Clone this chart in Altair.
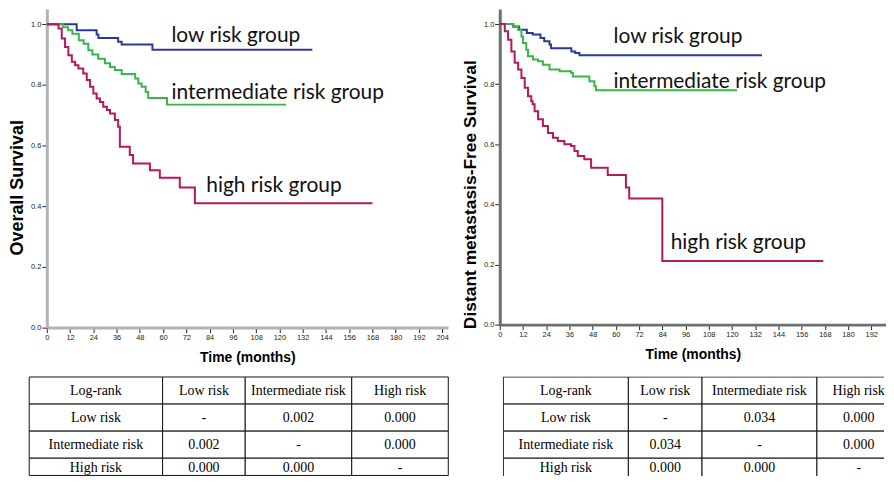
import altair as alt
import pandas as pd

# ---------------- data ----------------
groups = ["low risk", "intermediate risk", "high risk"]

# Overall survival (left): time (months) of each step and survival after it
os_low_t = [0, 15.4, 25.7, 26.6, 36.8, 38.6, 54.5, 137]
os_low_s = [1.0, 0.980, 0.966, 0.955, 0.942, 0.933, 0.916, 0.916]
os_mid_t = [0, 8.5, 11, 13.2, 16.5, 19, 21.4, 23.5, 26.5, 30, 32.6, 35.1, 38.6, 45.6, 47.2, 48.9, 51, 52.3, 62, 123.5]
os_mid_s = [1.0, 0.99, 0.98, 0.969, 0.947, 0.936, 0.914, 0.900, 0.886, 0.871, 0.859, 0.849, 0.836, 0.821, 0.805, 0.794, 0.777, 0.757, 0.735, 0.735]
os_high_t = [0, 6, 7.7, 9.4, 11.1, 12.9, 14.6, 16.3, 18.8, 20.6, 22.3, 24, 25.7, 27.4, 29.1, 31, 32.6, 35.1, 36.8, 37.7,
             42.8, 44.5, 53.2, 58.3, 68.6, 76.4, 168]
os_high_s = [1.0, 0.986, 0.953, 0.925, 0.898, 0.876, 0.865, 0.854, 0.838, 0.816, 0.794, 0.772, 0.755, 0.744, 0.728, 0.717,
             0.706, 0.684, 0.662, 0.596, 0.569, 0.541, 0.519, 0.494, 0.462, 0.410, 0.410]

# Distant metastasis-free survival (right)
dm_low_t = [0, 7, 10, 14, 17, 21, 23, 25.7, 26.5, 37, 39, 41.2, 135.5]
dm_low_s = [1.0, 0.992, 0.981, 0.970, 0.965, 0.954, 0.943, 0.932, 0.920, 0.909, 0.904, 0.896, 0.896]
dm_mid_t = [0, 7, 9.5, 11.2, 12, 13.7, 14.6, 17.2, 19.8, 22.3, 25.7, 30.9, 36.9, 37.8, 46.3, 48.9, 49.7, 122.6]
dm_mid_s = [1.0, 0.990, 0.981, 0.959, 0.937, 0.915, 0.893, 0.882, 0.876, 0.865, 0.849, 0.843, 0.837, 0.826, 0.810, 0.793, 0.780, 0.780]
dm_high_t = [0, 2.6, 4.3, 6, 7.7, 9.5, 11.2, 12.9, 14.6, 16.3, 17, 18, 19.8, 22.3, 24.9, 27.5, 30, 33.4, 36.9, 38.6,
             40.3, 43.7, 47.2, 55.8, 65.2, 66.9, 84, 167.2]
dm_high_s = [1.0, 0.976, 0.948, 0.909, 0.871, 0.849, 0.821, 0.788, 0.760, 0.743, 0.733, 0.710, 0.683, 0.661, 0.638, 0.622,
             0.611, 0.600, 0.594, 0.578, 0.561, 0.550, 0.522, 0.498, 0.456, 0.420, 0.212, 0.212]

# in-plot labels (text, month, survival)
os_lab_text = ["low risk group", "intermediate risk group", "high risk group"]
os_lab_x = [64.3, 64.3, 82.3]
os_lab_y = [0.961, 0.774, 0.467]
dm_lab_text = ["low risk group", "intermediate risk group", "high risk group"]
dm_lab_x = [58.8, 58.8, 88.3]
dm_lab_y = [0.958, 0.807, 0.271]

# log-rank tables
tbl_header = ["Log-rank", "Low risk", "Intermediate risk", "High risk"]
tbl_rows = ["Low risk", "Intermediate risk", "High risk"]
os_p = [["-", "0.002", "0.000"], ["0.002", "-", "0.000"], ["0.000", "0.000", "-"]]
dm_p = [["-", "0.034", "0.000"], ["0.034", "-", "0.000"], ["0.000", "0.000", "-"]]

x_ticks = list(range(0, 205, 12))
y_ticks = [0.0, 0.2, 0.4, 0.6, 0.8, 1.0]

# ---------------- styling ----------------
colors = ["#2B3990", "#3AB54A", "#B3195C"]
SANS = "Liberation Sans"


def km_chart(series, lab_text, lab_x, lab_y, ytitle, ytitle_y, xmax, width, height, axis_color, ticks, ytitle_size):
    rows = []
    for g, (tt, ss) in zip(groups, series):
        for t, s in zip(tt, ss):
            rows.append({"g": g, "t": t, "s": s})
    df = pd.DataFrame(rows)
    lab = pd.DataFrame({"txt": lab_text, "t": lab_x, "s": lab_y})

    xs = alt.Scale(domain=[0, xmax], nice=False, zero=False)
    ys = alt.Scale(domain=[0, 1.05], nice=False, zero=False)
    xaxis = alt.Axis(values=ticks, title="Time (months)", titleFont=SANS, titleFontSize=14,
                     titleFontWeight="bold", titleColor="black", titlePadding=10,
                     labelFont=SANS, labelFontSize=7.5, labelColor="#222", labelPadding=1,
                     labelFlush=False, labelOverlap=False, tickSize=5, tickColor="#222",
                     tickWidth=1, domainColor=axis_color, domainWidth=3, grid=False)
    yaxis = alt.Axis(values=y_ticks, format=".1f", title=ytitle, titleFont=SANS,
                     titleFontSize=ytitle_size, titleFontWeight="bold", titleColor="black",
                     titlePadding=4, titleY=ytitle_y,
                     labelFont=SANS, labelFontSize=7.5, labelColor="#222", labelPadding=1,
                     tickSize=5, tickColor="#222", tickWidth=1, domainColor=axis_color,
                     domainWidth=3, grid=False)
    lines = alt.Chart(df).mark_line(interpolate="step-after", strokeWidth=2).encode(
        x=alt.X("t:Q", scale=xs, axis=xaxis),
        y=alt.Y("s:Q", scale=ys, axis=yaxis),
        color=alt.Color("g:N", scale=alt.Scale(domain=groups, range=colors), legend=None),
    )
    text = alt.Chart(lab).mark_text(align="left", baseline="middle", font="Lato",
                                    fontSize=21, color="#111").encode(
        x=alt.X("t:Q", scale=xs, axis=xaxis),
        y=alt.Y("s:Q", scale=ys, axis=yaxis),
        text="txt:N",
    )
    return alt.layer(lines, text).properties(width=width, height=height)


def table_chart(pvals, col_widths, left_pad, chart_w, row_h, top_pad, chart_h, clip):
    xe = [left_pad]
    for w in col_widths:
        xe.append(xe[-1] + w)
    ye = [top_pad + i * row_h for i in range(5)]
    grid = [tbl_header] + [[r] + p for r, p in zip(tbl_rows, pvals)]
    recs = []
    for ri, row in enumerate(grid):
        y0 = ye[ri]
        y1 = ye[ri + 1] if clip else min(ye[ri + 1], chart_h - 0.5)
        ym = min((ye[ri] + ye[ri + 1]) / 2, chart_h - 8)
        for ci, txt in enumerate(row):
            recs.append({"r": ri, "c": ci, "txt": txt, "x0": xe[ci], "x1": xe[ci + 1],
                         "xm": (xe[ci] + xe[ci + 1]) / 2, "y0": y0, "y1": y1, "ym": ym})
    df = pd.DataFrame(recs)
    xs = alt.Scale(domain=[0, chart_w], nice=False, zero=False)
    ys = alt.Scale(domain=[0, chart_h], nice=False, zero=False, reverse=True)
    base = alt.Chart(df)
    rect = base.mark_rect(fill="white", stroke="#111", strokeWidth=1, clip=clip).encode(
        x=alt.X("x0:Q", scale=xs, axis=None), x2="x1",
        y=alt.Y("y0:Q", scale=ys, axis=None), y2="y1")
    text = base.mark_text(font="Liberation Serif", fontSize=14, color="black").encode(
        x=alt.X("xm:Q", scale=xs, axis=None),
        y=alt.Y("ym:Q", scale=ys, axis=None),
        text="txt:N")
    return alt.layer(rect, text).properties(width=chart_w, height=chart_h)


km1 = km_chart([(os_low_t, os_low_s), (os_mid_t, os_mid_s), (os_high_t, os_high_s)],
               os_lab_text, os_lab_x, os_lab_y, "Overall Survival", 179,
               207, 403, 320, "#B2B2B2", x_ticks, 18)
km2 = km_chart([(dm_low_t, dm_low_s), (dm_mid_t, dm_mid_s), (dm_high_t, dm_high_s)],
               dm_lab_text, dm_lab_x, dm_lab_y, "Distant metastasis-Free  Survival", 186,
               199.6, 388, 317, "#6E6E6E", x_ticks[:-1], 17.5)

# the left table starts a little left of the plot origin above it; the page edge cuts the tables
TABLE_H = 100
t1 = table_chart(os_p, [134, 83, 107, 97], -17.7, 403, 27.2, 0.6, TABLE_H, False)
t2 = table_chart(dm_p, [125.6, 74, 115.4, 84], 0.6, 383, 27.2, 0.6, TABLE_H, True)

row1 = alt.hconcat(km1, km2, spacing=12)
row2 = alt.hconcat(t1, t2, spacing=54)
chart = alt.vconcat(row1, row2, spacing=11).properties(padding=0).configure_view(stroke=None)

chart.save("out.html", embed_options={"renderer": "svg", "actions": False})
